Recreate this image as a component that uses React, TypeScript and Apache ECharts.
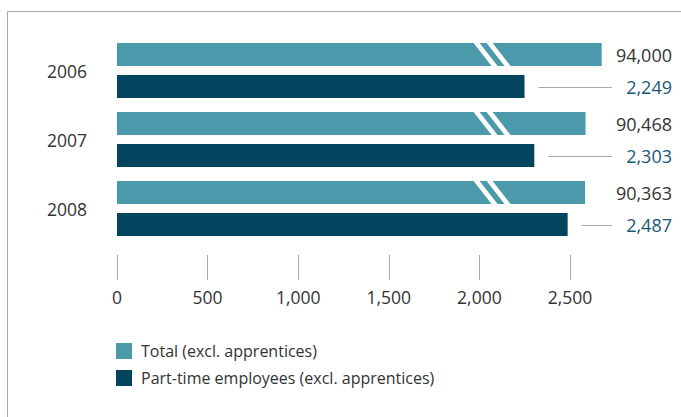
import React, { useEffect, useRef } from "react";
import * as echarts from "echarts";

// Employees by year
const years = ["2006", "2007", "2008"];
const totalEmployees = [94000, 90468, 90363];
const partTimeEmployees = [2249, 2303, 2487];
const tickValues = [0, 500, 1000, 1500, 2000, 2500];

// Totals are drawn on a broken scale: the part of the bar beyond BREAK_AT
// represents values above BREAK_FROM, compressed by BREAK_SCALE.
const BREAK_AT = 2070;
const BREAK_FROM = 70000;
const BREAK_SCALE = 0.0252;
const toBrokenScale = (v: number) => BREAK_AT + (v - BREAK_FROM) * BREAK_SCALE;

const BAR_W = 23;
const BAR_GAP = 9;
const LABEL_RIGHT = 672;
const LEADER_END = 612;

const TEAL = "#4a9aab";
const NAVY = "#03445f";
const TEXT = "#333333";
const NAVY_TEXT = "#1b5877";
const GRID_GRAY = "#a8a8a8";
const FONT = "'Open Sans', 'Noto Sans', sans-serif";

const fmt = (v: number) => v.toLocaleString("en-US");

// value labels sit right-aligned at a fixed x, vertically centred on their bar
const rightAlignedLabel = (params: any) => {
  const r = params.rect;
  return {
    x: LABEL_RIGHT,
    y: r.y + r.height / 2,
    align: "right",
    verticalAlign: "middle",
  };
};

export default function App() {
  const ref = useRef<HTMLDivElement>(null);

  useEffect(() => {
    if (!ref.current) return;
    const chart = echarts.init(ref.current, undefined, { renderer: "svg" });

    const option: any = {
      animation: false,
      textStyle: { fontFamily: FONT },
      graphic: [
        {
          type: "polyline",
          shape: { points: [[7.5, 417], [7.5, 11.5], [681, 11.5]] },
          style: { stroke: GRID_GRAY, lineWidth: 1, fill: null },
          silent: true,
        },
      ],
      legend: {
        orient: "vertical",
        left: 111,
        top: 338,
        itemWidth: 16,
        itemHeight: 16,
        itemGap: 11,
        icon: "rect",
        data: ["Total (excl. apprentices)", "Part-time employees (excl. apprentices)"],
        textStyle: { fontSize: 16, color: TEXT, fontFamily: FONT, padding: [0, 0, 0, 4] },
      },
      grid: { left: 117, right: 20.4, top: 36, bottom: 174 },
      xAxis: {
        type: "value",
        min: 0,
        max: 3000,
        interval: 500,
        offset: 37,
        axisLine: { show: false },
        splitLine: { show: false },
        axisTick: {
          show: true,
          inside: true,
          length: 25,
          customValues: tickValues,
          lineStyle: { color: GRID_GRAY, width: 1 },
        },
        axisLabel: {
          customValues: tickValues,
          margin: 8,
          fontSize: 17.5,
          color: TEXT,
          fontFamily: FONT,
          formatter: (v: number) => fmt(v),
        },
      },
      yAxis: {
        type: "category",
        data: years,
        inverse: true,
        axisLine: { show: false },
        axisTick: { show: false },
        axisLabel: { margin: 30, fontSize: 17.5, color: TEXT, fontFamily: FONT },
      },
      series: [
        {
          name: "Total (excl. apprentices)",
          type: "bar",
          data: totalEmployees.map(toBrokenScale),
          barWidth: BAR_W,
          barGap: `${(BAR_GAP / BAR_W) * 100}%`,
          itemStyle: { color: TEAL },
          label: {
            show: true,
            position: "right",
            fontSize: 18,
            color: TEXT,
            fontFamily: FONT,
            formatter: (p: any) => fmt(totalEmployees[p.dataIndex]),
          },
          labelLayout: rightAlignedLabel,
        },
        {
          name: "Part-time employees (excl. apprentices)",
          type: "bar",
          data: partTimeEmployees,
          barWidth: BAR_W,
          itemStyle: { color: NAVY },
          label: {
            show: true,
            position: "right",
            fontSize: 18,
            color: NAVY_TEXT,
            fontFamily: FONT,
            formatter: (p: any) => fmt(partTimeEmployees[p.dataIndex]),
          },
          labelLayout: rightAlignedLabel,
        },
        {
          // leader lines from the part-time bars to their labels
          name: "leaders",
          type: "custom",
          z: 4,
          silent: true,
          encode: { x: 0, y: 1 },
          data: partTimeEmployees.map((v, i) => [v, i]),
          renderItem: (_params: any, api: any) => {
            const pt = api.coord([api.value(0), api.value(1)]);
            const cy = Math.round(pt[1] + (BAR_GAP + BAR_W) / 2) + 0.5;
            return {
              type: "line",
              shape: { x1: pt[0] + 14, y1: cy, x2: LEADER_END, y2: cy },
              style: { stroke: GRID_GRAY, lineWidth: 1 },
            };
          },
        },
        {
          // break marks across the total bars
          name: "break",
          type: "custom",
          z: 5,
          silent: true,
          encode: { x: 0, y: 1 },
          data: years.map((_, i) => [BREAK_AT, i]),
          renderItem: (_params: any, api: any) => {
            const pt = api.coord([api.value(0), api.value(1)]);
            const barCenter = pt[1] - (BAR_GAP + BAR_W) / 2;
            const top = barCenter - BAR_W / 2;
            const bottom = barCenter + BAR_W / 2;
            const children = [-6.5, 6.5].map((d) => {
              const cx = pt[0] + d;
              return {
                type: "polygon",
                shape: {
                  points: [
                    [cx - 12, top],
                    [cx - 6, top],
                    [cx + 12, bottom],
                    [cx + 6, bottom],
                  ],
                },
                style: { fill: "#ffffff" },
              };
            });
            return { type: "group", children };
          },
        },
      ],
    };

    chart.setOption(option);
    return () => chart.dispose();
  }, []);

  return (
    <div
      ref={ref}
      style={{ position: "absolute", left: 0, top: 0, width: 681, height: 417 }}
    />
  );
}
